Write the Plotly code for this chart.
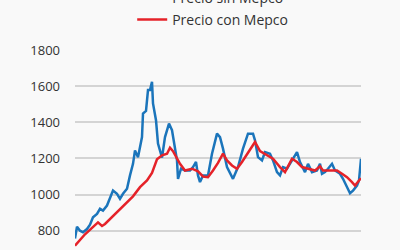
import plotly.graph_objects as go

# Period index (weeks) and prices
t_sin = [0, 2, 5, 8, 12, 15, 18, 22, 25, 28, 32, 35, 38, 42, 45, 48, 52, 55, 58, 60,
         63, 67, 68, 71, 73, 75, 77, 78, 81, 83, 87, 90, 94, 97, 100, 102, 103, 106, 110, 115,
         118, 121, 123, 125, 128, 133, 137, 140, 142, 145, 148, 152, 158, 163, 168, 173, 178, 180, 183, 187,
         190, 195, 198, 202, 205, 208, 212, 217, 222, 225, 230, 233, 237, 242, 245, 247, 250, 253, 257, 260,
         265, 268, 272, 275, 278, 282, 284, 286]
precio_sin = [756, 822, 800, 791, 809, 833, 874, 893, 921, 911, 939, 985, 1022, 1004, 976, 1004, 1032, 1106, 1170, 1244,
              1207, 1318, 1448, 1463, 1578, 1578, 1624, 1504, 1411, 1282, 1204, 1318, 1393, 1356, 1240, 1189, 1087, 1143, 1133, 1133,
              1152, 1180, 1106, 1069, 1106, 1106, 1226, 1300, 1337, 1318, 1254, 1152, 1087, 1152, 1254, 1337, 1337, 1300, 1207, 1189,
              1235, 1226, 1189, 1124, 1106, 1152, 1143, 1189, 1235, 1180, 1124, 1170, 1124, 1133, 1170, 1115, 1124, 1143, 1170, 1133,
              1115, 1087, 1041, 1007, 1022, 1050, 1078, 1198]

t_con = [0, 10, 23, 27, 30, 38, 48, 58, 65, 72, 77, 82, 87, 92, 95, 98, 105, 110, 117, 123,
         128, 133, 138, 143, 148, 152, 157, 162, 167, 172, 177, 180, 185, 192, 198, 205, 210, 217, 222, 227,
         233, 240, 245, 248, 255, 262, 267, 272, 277, 280, 284, 286]
precio_con = [717, 780, 846, 826, 837, 880, 935, 990, 1041, 1078, 1120, 1195, 1217, 1226, 1259, 1240, 1170, 1133, 1143, 1128,
              1100, 1096, 1133, 1175, 1226, 1189, 1161, 1143, 1180, 1220, 1260, 1291, 1240, 1217, 1198, 1152, 1124, 1198, 1180, 1152,
              1143, 1133, 1156, 1133, 1133, 1133, 1115, 1096, 1069, 1050, 1078, 1090]

y_ticks = [800, 1000, 1200, 1400, 1600, 1800]

fig = go.Figure()
fig.add_trace(go.Scatter(x=t_sin, y=precio_sin, mode="lines", name="Precio sin Mepco",
                         line=dict(color="#1b75bb", width=2.5), legend="legend"))
fig.add_trace(go.Scatter(x=t_con, y=precio_con, mode="lines", name="Precio con Mepco",
                         line=dict(color="#e52229", width=2.5), legend="legend2"))

font = dict(family="Open Sans, Noto Sans, sans-serif", size=13, color="#333333")
lfont = dict(family="Open Sans, Noto Sans, sans-serif", size=14, color="#333333")
fig.update_layout(
    width=400, height=250,
    margin=dict(l=75, r=39, t=50, b=0, autoexpand=False),
    paper_bgcolor="#f9f9f9", plot_bgcolor="#f9f9f9",
    font=font,
    showlegend=True,
    legend=dict(x=0.2, xanchor="left", y=1.26, yanchor="middle", bgcolor="rgba(0,0,0,0)", font=lfont),
    legend2=dict(x=0.2, xanchor="left", y=1.15, yanchor="middle", bgcolor="rgba(0,0,0,0)", font=lfont),
    xaxis=dict(range=[0, 286], showgrid=False, zeroline=False, showticklabels=False, showline=False, ticks=""),
    yaxis=dict(range=[693, 1800], tickvals=y_ticks, showgrid=True, gridcolor="#d4d4d4", gridwidth=1.5,
               zeroline=False, showline=False, ticks="", ticklabelstandoff=14),
)

fig.write_html("out.html")
